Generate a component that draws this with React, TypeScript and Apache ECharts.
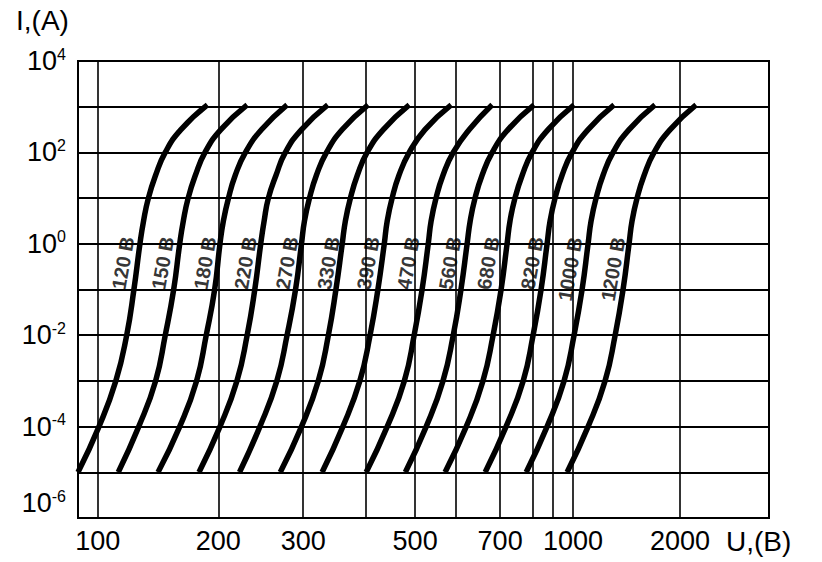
import React, { useEffect, useRef } from 'react';
import * as echarts from 'echarts';

// Current levels (A) at which each curve's voltage was read
const currentLevels = [1e-5, 1e-4, 1e-3, 1e-2, 1e-1, 1, 3.16, 10, 31.6, 100, 316, 1100];

const curveNames = ['120 B', '150 B', '180 B', '220 B', '270 B', '330 B', '390 B', '470 B', '560 B', '680 B', '820 B', '1000 B', '1200 B'];

// Voltage (B) of each curve at the current levels above
const v120 = [90, 101, 115, 124, 130, 135, 138, 142, 148, 156, 169, 191];
const v150 = [117, 134, 148, 156, 163, 168, 171, 175, 181, 189, 203, 234];
const v180 = [150, 168, 182, 190, 197, 202, 206, 212, 220, 232, 251, 281];
const v220 = [184, 202, 222, 234, 243, 250, 254, 259, 268, 279, 298, 339];
const v270 = [225, 249, 269, 281, 291, 298, 302, 310, 321, 337, 362, 404];
const v330 = [273, 298, 324, 340, 352, 362, 367, 375, 386, 402, 435, 488];
const v390 = [330, 363, 390, 408, 424, 437, 443, 453, 467, 488, 524, 588];
const v470 = [400, 443, 478, 498, 517, 532, 539, 551, 568, 593, 630, 682];
const v560 = [480, 527, 568, 593, 611, 625, 632, 643, 659, 682, 724, 805];
const v680 = [573, 623, 661, 684, 703, 721, 730, 745, 767, 797, 875, 1009];
const v820 = [666, 718, 770, 800, 840, 870, 885, 910, 945, 995, 1140, 1383];
const v1000 = [779, 870, 955, 1009, 1084, 1140, 1168, 1215, 1280, 1374, 1523, 1766];
const v1200 = [970, 1140, 1299, 1393, 1467, 1523, 1551, 1598, 1664, 1757, 1907, 2180];
const curveVolts = [v120, v150, v180, v220, v270, v330, v390, v470, v560, v680, v820, v1000, v1200];

// Curve label anchor points (voltage, current)
const labelVolts = [121, 154, 189, 232, 281, 340, 404, 486, 585, 673, 797, 985, 1374];
const labelCurrents = [0.38, 0.38, 0.38, 0.38, 0.38, 0.38, 0.38, 0.38, 0.38, 0.38, 0.38, 0.28, 0.28];

// Grid (vertical lines) and labelled voltages
const gridVolts = [100, 200, 300, 400, 500, 600, 700, 800, 900, 1000, 2000];
const tickLabelVolts = [100, 200, 300, 500, 700, 1000, 2000];

// Current decades
const gridCurrents = [1e-6, 1e-5, 1e-4, 1e-3, 1e-2, 1e-1, 1, 10, 100, 1e3, 1e4];
const tickLabelCurrents = [1e-6, 1e-4, 1e-2, 1, 100, 1e4];

// The chart's hand-drawn voltage scale: knots (voltage -> fraction of axis)
const scaleKnotVolts = [90, 100, 200, 300, 400, 500, 600, 700, 800, 900, 1000, 2000, 3000];
const scaleKnotPos = [0, 0.0286, 0.203, 0.3259, 0.417, 0.4879, 0.5472, 0.6109, 0.6586, 0.6875, 0.7165, 0.8713, 1];

function toPos(v: number): number {
  const n = scaleKnotVolts.length;
  if (v <= scaleKnotVolts[0]) return scaleKnotPos[0];
  for (let i = 0; i < n - 1; i++) {
    const a = scaleKnotVolts[i];
    const b = scaleKnotVolts[i + 1];
    if (v <= b) {
      return scaleKnotPos[i] + ((v - a) / (b - a)) * (scaleKnotPos[i + 1] - scaleKnotPos[i]);
    }
  }
  return scaleKnotPos[n - 1];
}

function voltLabel(p: number): string {
  let best = '';
  let bestD = Infinity;
  for (const v of tickLabelVolts) {
    const d = Math.abs(toPos(v) - p);
    if (d < bestD) {
      bestD = d;
      best = String(v);
    }
  }
  return bestD < 0.005 ? best : '';
}

const FONT = '"Liberation Sans", Arial, Helvetica, sans-serif';

export default function App() {
  const ref = useRef<HTMLDivElement>(null);

  useEffect(() => {
    if (!ref.current) return;
    const chart = echarts.init(ref.current, null, { renderer: 'svg' });

    const lineSeries = curveVolts.map((volts, k) => ({
      type: 'line',
      name: curveNames[k],
      data: volts.map((v, i) => [toPos(v), currentLevels[i]]),
      showSymbol: false,
      symbol: 'none',
      smooth: 0.5,
      silent: true,
      z: 3,
      lineStyle: { color: '#000', width: 5.5 },
    }));

    const labelSeries = {
      type: 'scatter',
      symbolSize: 0,
      silent: true,
      z: 4,
      data: labelVolts.map((v, i) => ({ name: curveNames[i], value: [toPos(v), labelCurrents[i]] })),
      label: {
        show: true,
        position: 'inside',
        formatter: '{b}',
        rotate: 80,
        color: '#000',
        fontSize: 20,
        fontWeight: 'bold',
        fontFamily: FONT,
      },
    };

    const option: any = {
      animation: false,
      backgroundColor: '#fff',
      grid: {
        left: 78,
        right: 53,
        top: 61,
        bottom: 44,
        show: true,
        borderColor: '#000',
        borderWidth: 2,
        backgroundColor: 'transparent',
      },
      xAxis: {
        type: 'value',
        min: 0,
        max: 1,
        axisLine: { show: false },
        axisTick: { show: false, customValues: gridVolts.map(toPos) },
        axisLabel: {
          customValues: tickLabelVolts.map(toPos),
          formatter: (p: number) => voltLabel(p),
          fontSize: 27,
          color: '#000',
          margin: 9,
          fontFamily: FONT,
        },
        splitLine: { show: true, lineStyle: { color: '#000', width: 1.6 } },
      },
      yAxis: {
        type: 'log',
        logBase: 10,
        min: 1e-6,
        max: 1e4,
        splitNumber: 10,
        axisLine: { show: false },
        axisTick: { show: false, customValues: gridCurrents },
        axisLabel: {
          customValues: tickLabelCurrents,
          margin: 12,
          verticalAlignMinLabel: 'bottom',
          formatter: (v: number) => {
            const e = Math.round(Math.log10(v));
            return `{b|10}{s|${e}}`;
          },
          rich: {
            b: { fontSize: 27, color: '#000', fontFamily: FONT, lineHeight: 30 },
            s: { fontSize: 16, color: '#000', fontFamily: FONT, verticalAlign: 'top', lineHeight: 16 },
          },
        },
        splitLine: { show: true, lineStyle: { color: '#000', width: 2 } },
      },
      graphic: [
        {
          type: 'text',
          left: 16,
          top: 6,
          style: { text: 'I,(A)', fontSize: 28, fill: '#000', fontFamily: FONT },
        },
        {
          type: 'text',
          left: 726,
          top: 527,
          style: { text: 'U,(B)', fontSize: 28, fill: '#000', fontFamily: FONT },
        },
      ],
      series: [...lineSeries, labelSeries],
    };

    chart.setOption(option);
    return () => chart.dispose();
  }, []);

  return (
    <div
      ref={ref}
      style={{ position: 'absolute', left: 0, top: 0, width: 822, height: 562, background: '#fff' }}
    />
  );
}
